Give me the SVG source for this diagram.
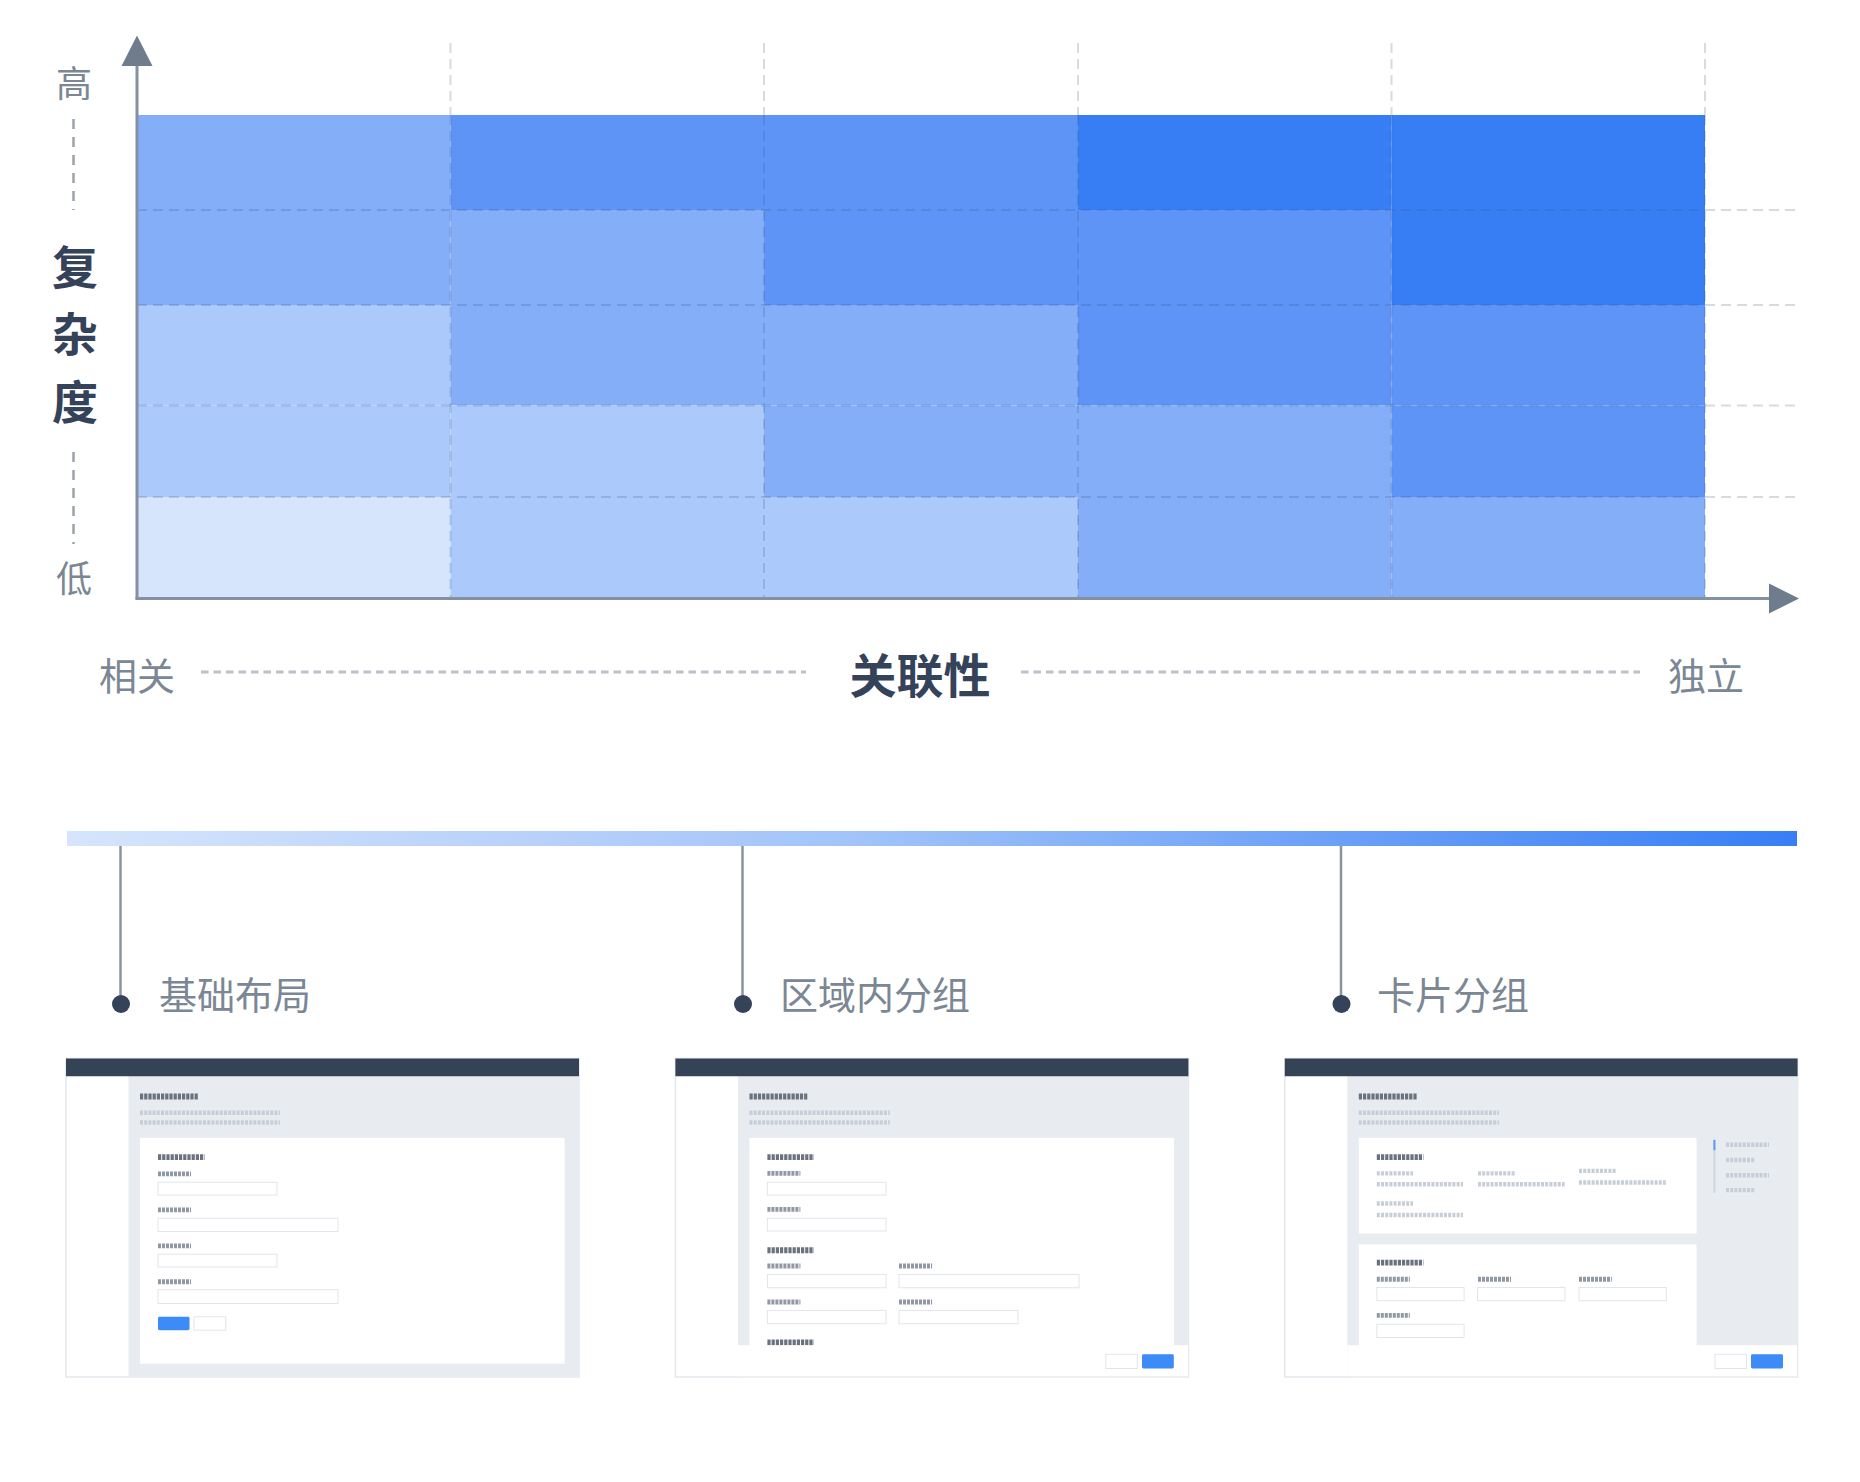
<svg xmlns="http://www.w3.org/2000/svg" width="1860" height="1482" viewBox="0 0 1860 1482">
<defs>
<style>
.t{font-family:"Noto Sans CJK SC","Noto Sans",sans-serif;dominant-baseline:central}
.lg{fill:#7b8794;font-size:36px}
.lg38{fill:#7b8794;font-size:38px}
.bd{fill:#34425a;font-weight:bold}
.grid{stroke:#3c5a8c;stroke-opacity:0.22;stroke-width:2;stroke-dasharray:10 6;fill:none}
.gridout{stroke:#d7dce3;stroke-width:2;stroke-dasharray:10 6;fill:none}
.c0{fill:#d6e5fc}.c1{fill:#abc9fa}.c2{fill:#84aef8}.c3{fill:#5e94f6}.c4{fill:#377ef5}
.ph1{stroke:#6a727d;stroke-width:6;stroke-dasharray:3.2 1}
.ph2{stroke:#8f98a3;stroke-width:5;stroke-dasharray:3 1}
.ph3{stroke:#c8ced7;stroke-width:4.5;stroke-dasharray:3 1.2}
.inp{fill:#fff;stroke:#e1e5ea;stroke-width:1}
.btnb{fill:#3d8bf7}
.frame{fill:#fff;stroke:#e3e7ed;stroke-width:1.5}
.bar{fill:#344356}
.bg{fill:#e8ecf0}
.card{fill:#fff}
.conn{stroke:#8a949f;stroke-width:2.5}
.dot{fill:#34435a}
</style>
<linearGradient id="grad" x1="0" y1="0" x2="1" y2="0">
<stop offset="0" stop-color="#d6e5fc"/>
<stop offset="0.45" stop-color="#a2c4f9"/>
<stop offset="1" stop-color="#377ef5"/>
</linearGradient>
</defs>
<rect width="1860" height="1482" fill="#fff"/>

<g id="chart-cells">
<rect class="c2" x="137" y="115" width="313.5" height="95"/>
<rect class="c3" x="450.5" y="115" width="313.5" height="95"/>
<rect class="c3" x="764" y="115" width="314" height="95"/>
<rect class="c4" x="1078" y="115" width="313.5" height="95"/>
<rect class="c4" x="1391.5" y="115" width="313.5" height="95"/>

<rect class="c2" x="137" y="210" width="313.5" height="95"/>
<rect class="c2" x="450.5" y="210" width="313.5" height="95"/>
<rect class="c3" x="764" y="210" width="314" height="95"/>
<rect class="c3" x="1078" y="210" width="313.5" height="95"/>
<rect class="c4" x="1391.5" y="210" width="313.5" height="95"/>

<rect class="c1" x="137" y="305" width="313.5" height="100.5"/>
<rect class="c2" x="450.5" y="305" width="313.5" height="100.5"/>
<rect class="c2" x="764" y="305" width="314" height="100.5"/>
<rect class="c3" x="1078" y="305" width="313.5" height="100.5"/>
<rect class="c3" x="1391.5" y="305" width="313.5" height="100.5"/>

<rect class="c1" x="137" y="405.5" width="313.5" height="91.5"/>
<rect class="c1" x="450.5" y="405.5" width="313.5" height="91.5"/>
<rect class="c2" x="764" y="405.5" width="314" height="91.5"/>
<rect class="c2" x="1078" y="405.5" width="313.5" height="91.5"/>
<rect class="c3" x="1391.5" y="405.5" width="313.5" height="91.5"/>

<rect class="c0" x="137" y="497" width="313.5" height="101.5"/>
<rect class="c1" x="450.5" y="497" width="313.5" height="101.5"/>
<rect class="c1" x="764" y="497" width="314" height="101.5"/>
<rect class="c2" x="1078" y="497" width="313.5" height="101.5"/>
<rect class="c2" x="1391.5" y="497" width="313.5" height="101.5"/>
</g>

<g id="grid">
<path class="gridout" d="M450.5 43V115M764 43V115M1078 43V115M1391.5 43V115M1705 43V115"/>
<path class="gridout" d="M1705 210H1797M1705 305H1797M1705 405.5H1797M1705 497H1797"/>
<path class="grid" d="M450.5 115V598M764 115V598M1078 115V598M1391.5 115V598M1705 115V598"/>
<path class="grid" d="M137 210H1705M137 305H1705M137 405.5H1705M137 497H1705"/>
</g>

<g id="axes">
<line x1="137" y1="62" x2="137" y2="599.5" stroke="#8591a0" stroke-width="3"/>
<polygon points="137,35.5 121.5,66 152.5,66" fill="#6f7c8c"/>
<line x1="135.5" y1="598.5" x2="1772" y2="598.5" stroke="#8591a0" stroke-width="3"/>
<polygon points="1799,598.5 1769,583.5 1769,613.5" fill="#6f7c8c"/>
</g>

<g id="y-label">
<text class="t lg" x="74" y="81" text-anchor="middle">高</text>
<line x1="73.5" y1="119" x2="73.5" y2="210" stroke="#9aa3ae" stroke-width="2.5" stroke-dasharray="10 8"/>
<text class="t bd" x="75" y="264" font-size="46" text-anchor="middle">复</text>
<text class="t bd" x="75" y="331" font-size="46" text-anchor="middle">杂</text>
<text class="t bd" x="75" y="399" font-size="46" text-anchor="middle">度</text>
<line x1="73.5" y1="452" x2="73.5" y2="544" stroke="#9aa3ae" stroke-width="2.5" stroke-dasharray="10 8"/>
<text class="t lg" x="74" y="576" text-anchor="middle">低</text>
</g>

<g id="x-label">
<text class="t lg38" x="137" y="673" text-anchor="middle">相关</text>
<line x1="201" y1="672" x2="806" y2="672" stroke="#b9c1ca" stroke-width="3" stroke-dasharray="7.5 5"/>
<text class="t bd" x="920" y="672" font-size="47" text-anchor="middle">关联性</text>
<line x1="1021" y1="672" x2="1640" y2="672" stroke="#b9c1ca" stroke-width="3" stroke-dasharray="7.5 5"/>
<text class="t lg38" x="1706" y="673" text-anchor="middle">独立</text>
</g>

<g id="gradient-bar">
<rect x="67" y="831" width="1730" height="15" fill="url(#grad)"/>
</g>

<g id="connectors">
<line class="conn" x1="120.5" y1="846" x2="120.5" y2="1000"/>
<circle class="dot" cx="121" cy="1004" r="9"/>
<line class="conn" x1="742.5" y1="846" x2="742.5" y2="1000"/>
<circle class="dot" cx="743" cy="1004" r="9"/>
<line class="conn" x1="1341" y1="846" x2="1341" y2="1000"/>
<circle class="dot" cx="1341.5" cy="1004" r="9"/>
</g>

<g id="label-basic">
<text class="t lg38" x="159" y="992">基础布局</text>
</g>
<g id="label-region">
<text class="t lg38" x="780" y="992">区域内分组</text>
</g>
<g id="label-card">
<text class="t lg38" x="1377" y="992">卡片分组</text>
</g>

<g id="panel-basic" transform="translate(66,1058.5) scale(1,0.986)">
<rect class="frame" x="0" y="0" width="513" height="323"/>
<rect class="bg" x="62.5" y="18" width="450.5" height="305"/>
<rect class="bar" x="0" y="0" width="513" height="18"/>
<line class="ph1" x1="74" y1="38.5" x2="132.5" y2="38.5"/>
<line class="ph3" x1="74" y1="55" x2="214" y2="55"/>
<line class="ph3" x1="74" y1="65" x2="214" y2="65"/>
<rect class="card" x="74" y="80.5" width="424.6" height="229"/>
<line class="ph1" x1="92" y1="100" x2="138.7" y2="100"/>
<line class="ph2" x1="92" y1="117" x2="125" y2="117"/>
<rect class="inp" x="92" y="125.5" width="119" height="13"/>
<line class="ph2" x1="92" y1="153.5" x2="125" y2="153.5"/>
<rect class="inp" x="92" y="162" width="180" height="13.5"/>
<line class="ph2" x1="92" y1="190" x2="125" y2="190"/>
<rect class="inp" x="92" y="198.5" width="119" height="13"/>
<line class="ph2" x1="92" y1="226.5" x2="125" y2="226.5"/>
<rect class="inp" x="92" y="234.5" width="180" height="14"/>
<rect class="btnb" x="92" y="262" width="31.5" height="13.5" rx="1.5"/>
<rect class="inp" x="128" y="262" width="31.7" height="13.5"/>
</g>

<g id="panel-region" transform="translate(675.4,1058.5) scale(1,0.986)">
<rect class="frame" x="0" y="0" width="513" height="323"/>
<rect class="bg" x="62.6" y="18" width="450.4" height="305"/>
<rect class="bar" x="0" y="0" width="513" height="18"/>
<line class="ph1" x1="74.1" y1="38.5" x2="132.2" y2="38.5"/>
<line class="ph3" x1="74.1" y1="55" x2="214.4" y2="55"/>
<line class="ph3" x1="74.1" y1="65" x2="214.4" y2="65"/>
<rect class="card" x="74.1" y="80.5" width="424.6" height="215"/>
<line class="ph1" x1="92" y1="100" x2="138.6" y2="100"/>
<line class="ph2" x1="92" y1="116.5" x2="125" y2="116.5"/>
<rect class="inp" x="92" y="125.5" width="118.6" height="13"/>
<line class="ph2" x1="92" y1="153" x2="125" y2="153"/>
<rect class="inp" x="92" y="162" width="118.6" height="13"/>
<line class="ph1" x1="92" y1="194.5" x2="138.6" y2="194.5"/>
<line class="ph2" x1="92" y1="210.5" x2="125" y2="210.5"/>
<line class="ph2" x1="223.6" y1="210.5" x2="256.7" y2="210.5"/>
<rect class="inp" x="92" y="219" width="118.6" height="13.5"/>
<rect class="inp" x="223.6" y="219" width="180" height="13.5"/>
<line class="ph2" x1="92" y1="247" x2="125" y2="247"/>
<line class="ph2" x1="223.6" y1="247" x2="256.7" y2="247"/>
<rect class="inp" x="92" y="255.5" width="118.6" height="13.5"/>
<rect class="inp" x="223.6" y="255.5" width="119" height="13.5"/>
<line class="ph1" x1="92" y1="288" x2="138.6" y2="288"/>
<rect x="62.6" y="290.8" width="450" height="31.5" fill="#fff"/>
<rect class="inp" x="430.4" y="300" width="31.5" height="14.4"/>
<rect class="btnb" x="466.6" y="300" width="31.8" height="14.4" rx="1.5"/>
</g>

<g id="panel-card" transform="translate(1284.8,1058.5) scale(1,0.986)">
<rect class="frame" x="0" y="0" width="512.8" height="323"/>
<rect class="bg" x="62.5" y="18" width="450.3" height="305"/>
<rect class="bar" x="0" y="0" width="512.8" height="18"/>
<line class="ph1" x1="74" y1="38.5" x2="132.2" y2="38.5"/>
<line class="ph3" x1="74" y1="55" x2="214.2" y2="55"/>
<line class="ph3" x1="74" y1="65" x2="214.2" y2="65"/>
<rect class="card" x="74" y="80.5" width="337.7" height="97"/>
<line class="ph1" x1="92" y1="100" x2="138.6" y2="100"/>
<line class="ph3" x1="92" y1="116.5" x2="128.2" y2="116.5"/>
<line class="ph3" x1="92" y1="127.5" x2="178.2" y2="127.5"/>
<line class="ph3" x1="193.2" y1="116.5" x2="230.2" y2="116.5"/>
<line class="ph3" x1="193.2" y1="127.5" x2="279.9" y2="127.5"/>
<line class="ph3" x1="294.2" y1="114" x2="331" y2="114"/>
<line class="ph3" x1="294.2" y1="125.7" x2="381" y2="125.7"/>
<line class="ph3" x1="92" y1="147" x2="128.2" y2="147"/>
<line class="ph3" x1="92" y1="158.8" x2="178.2" y2="158.8"/>
<rect class="card" x="74" y="188.5" width="337.7" height="110"/>
<line class="ph1" x1="92" y1="207" x2="138.6" y2="207"/>
<line class="ph2" x1="92" y1="223.8" x2="125" y2="223.8"/>
<line class="ph2" x1="193.2" y1="223.8" x2="226.2" y2="223.8"/>
<line class="ph2" x1="294.2" y1="223.8" x2="327" y2="223.8"/>
<rect class="inp" x="92" y="232.2" width="87.3" height="13.5"/>
<rect class="inp" x="192.7" y="232.2" width="87.5" height="13.5"/>
<rect class="inp" x="294.2" y="232.2" width="87.4" height="13.5"/>
<line class="ph2" x1="92" y1="260.5" x2="125" y2="260.5"/>
<rect class="inp" x="92" y="269.5" width="87.3" height="13.5"/>
<line x1="429.6" y1="82.5" x2="429.6" y2="136.2" stroke="#cfd6df" stroke-width="2"/>
<line x1="429.6" y1="82.5" x2="429.6" y2="93" stroke="#5d9af7" stroke-width="2"/>
<line class="ph3" x1="441.2" y1="87.5" x2="484.2" y2="87.5"/>
<line class="ph3" x1="441.2" y1="103" x2="469.9" y2="103"/>
<line class="ph3" x1="441.2" y1="118.5" x2="484.2" y2="118.5"/>
<line class="ph3" x1="441.2" y1="133.5" x2="469.9" y2="133.5"/>
<rect x="62.5" y="290.8" width="449.8" height="31.5" fill="#fff"/>
<rect class="inp" x="430.2" y="300" width="31.6" height="14.4"/>
<rect class="btnb" x="466.2" y="300" width="32" height="14.4" rx="1.5"/>
</g>
</svg>
